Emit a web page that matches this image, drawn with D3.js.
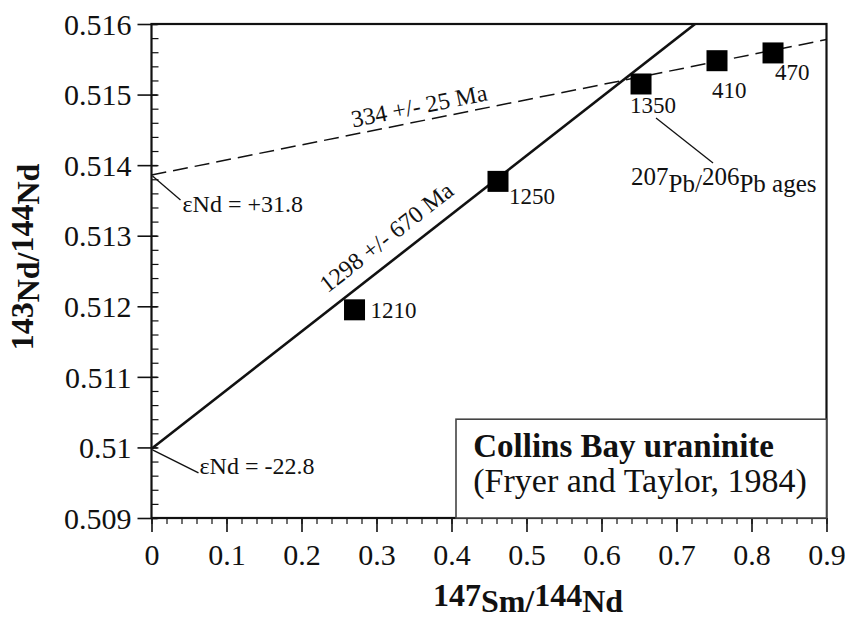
<!DOCTYPE html>
<html>
<head>
<meta charset="utf-8">
<script src="https://cdn.jsdelivr.net/npm/d3@7"></script>
<style>
  body { margin: 0; background: #fff; }
</style>
</head>
<body>
<script>
// data
const xTickVals = [0, 0.1, 0.2, 0.3, 0.4, 0.5, 0.6, 0.7, 0.8, 0.9];
const yTickVals = [0.509, 0.510, 0.511, 0.512, 0.513, 0.514, 0.515, 0.516];
const sampleAges = ["1210", "1250", "1350", "410", "470"];
const smNd = [0.2707, 0.462, 0.6527, 0.754, 0.8287];
const ndNd = [0.51195, 0.51377, 0.51515, 0.51548, 0.51559];
const isochronAges = ["1298 +/- 670 Ma", "334 +/- 25 Ma"];
const intercepts = [0.50998, 0.51386];
const slopes = [0.008307, 0.002133];
const epsLabels = ["\u03b5Nd = -22.8", "\u03b5Nd = +31.8"];

const FONT = "Liberation Serif";
const W = 845, H = 619;
const margin = { top: 24, right: 18.5, bottom: 101, left: 151.5 };
const width = W - margin.left - margin.right;
const height = H - margin.top - margin.bottom;

const svg = d3.select("body").append("svg")
    .attr("width", W)
    .attr("height", H)
    .attr("font-family", FONT)
    .attr("fill", "#111");

const g = svg.append("g")
    .attr("transform", `translate(${margin.left}, ${margin.top})`);

const x = d3.scaleLinear().domain([0, 0.9]).range([0, width]);
const y = d3.scaleLinear().domain([0.509, 0.516]).range([height, 0]);

g.append("clipPath").attr("id", "plot")
  .append("rect").attr("width", width).attr("height", height);

// minor ticks
g.append("g")
    .attr("transform", `translate(0, ${height})`)
    .call(d3.axisBottom(x).tickValues(d3.range(0, 0.9001, 0.02)).tickSize(6).tickFormat(""))
    .call(a => a.select(".domain").remove())
    .selectAll("line").attr("stroke", "#111").attr("stroke-width", 1.2);

g.append("g")
    .call(d3.axisRight(y).tickValues(d3.range(0.509, 0.51601, 0.0002)).tickSize(7).tickFormat(""))
    .call(a => a.select(".domain").remove())
    .selectAll("line").attr("stroke", "#111").attr("stroke-width", 1.2);

// major ticks + labels
const xAxis = g.append("g")
    .attr("transform", `translate(0, ${height})`)
    .call(d3.axisBottom(x).tickValues(xTickVals).tickSize(14).tickSizeOuter(0)
        .tickFormat(d => String(+d.toFixed(1))))
    .attr("font-family", FONT).attr("font-size", 30);
xAxis.select(".domain").remove();
xAxis.selectAll("line").attr("stroke", "#111").attr("stroke-width", 1.6);
xAxis.selectAll("text")
    .attr("y", 26).attr("dy", "0.71em").attr("fill", "#111");

const yAxis = g.append("g")
    .call(d3.axisLeft(y).tickValues(yTickVals).tickSize(14).tickSizeOuter(0)
        .tickFormat(d => String(+d.toFixed(3))))
    .attr("font-family", FONT).attr("font-size", 30);
yAxis.select(".domain").remove();
yAxis.selectAll("line").attr("x1", 6).attr("stroke", "#111").attr("stroke-width", 1.6);
yAxis.selectAll("text")
    .attr("x", -20).attr("dy", "0.34em").attr("fill", "#111");

// frame
g.append("rect")
    .attr("width", width).attr("height", height)
    .attr("fill", "none").attr("stroke", "#111").attr("stroke-width", 2.2);

// legend box
const box = g.append("g");
box.append("rect")
    .attr("x", x(0.406)).attr("y", y(0.5104))
    .attr("width", x(0.9) - x(0.406)).attr("height", y(0.509) - y(0.5104))
    .attr("fill", "#fff").attr("stroke", "#444").attr("stroke-width", 1.6);
box.append("text")
    .attr("x", x(0.429)).attr("y", y(0.509) - 61)
    .attr("font-size", 33).attr("font-weight", "bold")
    .text("Collins Bay uraninite");
box.append("text")
    .attr("x", x(0.429)).attr("y", y(0.509) - 26)
    .attr("font-size", 34)
    .text("(Fryer and Taylor, 1984)");

// isochrons
const lineGen = d3.line().x(d => x(d[0])).y(d => y(d[1]));
const iso = g.append("g").attr("clip-path", "url(#plot)");
iso.selectAll("path")
    .data(intercepts)
    .enter().append("path")
    .attr("d", (b, i) => lineGen([[0, b], [0.9, b + slopes[i] * 0.9]]))
    .attr("fill", "none")
    .attr("stroke", "#111")
    .attr("stroke-width", (b, i) => i === 0 ? 2.6 : 1.5)
    .attr("stroke-dasharray", (b, i) => i === 0 ? null : "15,7");

// isochron age labels, rotated along their line
const labelAt = [0.3313, 0.3607];
const labelGap = [14, 7];
isochronAges.forEach((t, i) => {
    const cx = labelAt[i];
    const px = x(cx), py = y(intercepts[i] + slopes[i] * cx);
    const ang = Math.atan2(y(intercepts[i] + slopes[i]) - y(intercepts[i]), x(1) - x(0)) * 180 / Math.PI;
    g.append("text")
        .attr("transform", `translate(${px}, ${py}) rotate(${ang})`)
        .attr("y", -labelGap[i])
        .attr("text-anchor", "middle")
        .attr("font-size", 24)
        .text(t);
});

// epsilon Nd labels with leader lines
const epsPos = [[47, 24, 48, 25], [29, 25, 31, 37]];
epsLabels.forEach((t, i) => {
    const px = x(0), py = y(intercepts[i]);
    const p = epsPos[i];
    g.append("line")
        .attr("x1", px + 1).attr("y1", py + 1)
        .attr("x2", px + p[0]).attr("y2", py + p[1])
        .attr("stroke", "#111").attr("stroke-width", 1.3);
    g.append("text")
        .attr("x", px + p[2]).attr("y", py + p[3])
        .attr("font-size", 24)
        .text(t);
});

// samples
const sq = 21;
g.selectAll(".pt")
    .data(sampleAges)
    .enter().append("rect")
    .attr("class", "pt")
    .attr("x", (d, i) => x(smNd[i]) - sq / 2)
    .attr("y", (d, i) => y(ndNd[i]) - sq / 2)
    .attr("width", sq).attr("height", sq)
    .attr("fill", "#000");

const ageOff = [[16, 8], [11, 23], [-11, 29], [-5, 37], [2, 27]];
g.selectAll(".age")
    .data(sampleAges)
    .enter().append("text")
    .attr("class", "age")
    .attr("x", (d, i) => x(smNd[i]) + ageOff[i][0])
    .attr("y", (d, i) => y(ndNd[i]) + ageOff[i][1])
    .attr("font-size", 23)
    .text(d => d);

// Pb-Pb ages note
const p1350 = [x(smNd[2]), y(ndNd[2])];
g.append("line")
    .attr("x1", p1350[0] + 15).attr("y1", p1350[1] + 34)
    .attr("x2", p1350[0] + 72).attr("y2", p1350[1] + 79)
    .attr("stroke", "#111").attr("stroke-width", 1.3);
const pb = g.append("text")
    .attr("x", p1350[0] - 10).attr("y", p1350[1] + 101)
    .attr("font-size", 25);
pb.append("tspan").text("207");
pb.append("tspan").attr("dy", 7).text("Pb/");
pb.append("tspan").attr("dy", -7).text("206");
pb.append("tspan").attr("dy", 7).text("Pb ages");

// axis titles
const xt = svg.append("text")
    .attr("x", 528).attr("y", 606)
    .attr("text-anchor", "middle")
    .attr("font-size", 32).attr("font-weight", "bold");
xt.append("tspan").text("147");
xt.append("tspan").attr("dy", 6).text("Sm/");
xt.append("tspan").attr("dy", -6).text("144");
xt.append("tspan").attr("dy", 6).text("Nd");

const yt = svg.append("text")
    .attr("transform", "translate(33, 257) rotate(-90)")
    .attr("text-anchor", "middle")
    .attr("font-size", 32).attr("font-weight", "bold");
yt.append("tspan").text("143");
yt.append("tspan").attr("dy", 6).text("Nd/");
yt.append("tspan").attr("dy", -6).text("144");
yt.append("tspan").attr("dy", 6).text("Nd");
</script>
</body>
</html>
